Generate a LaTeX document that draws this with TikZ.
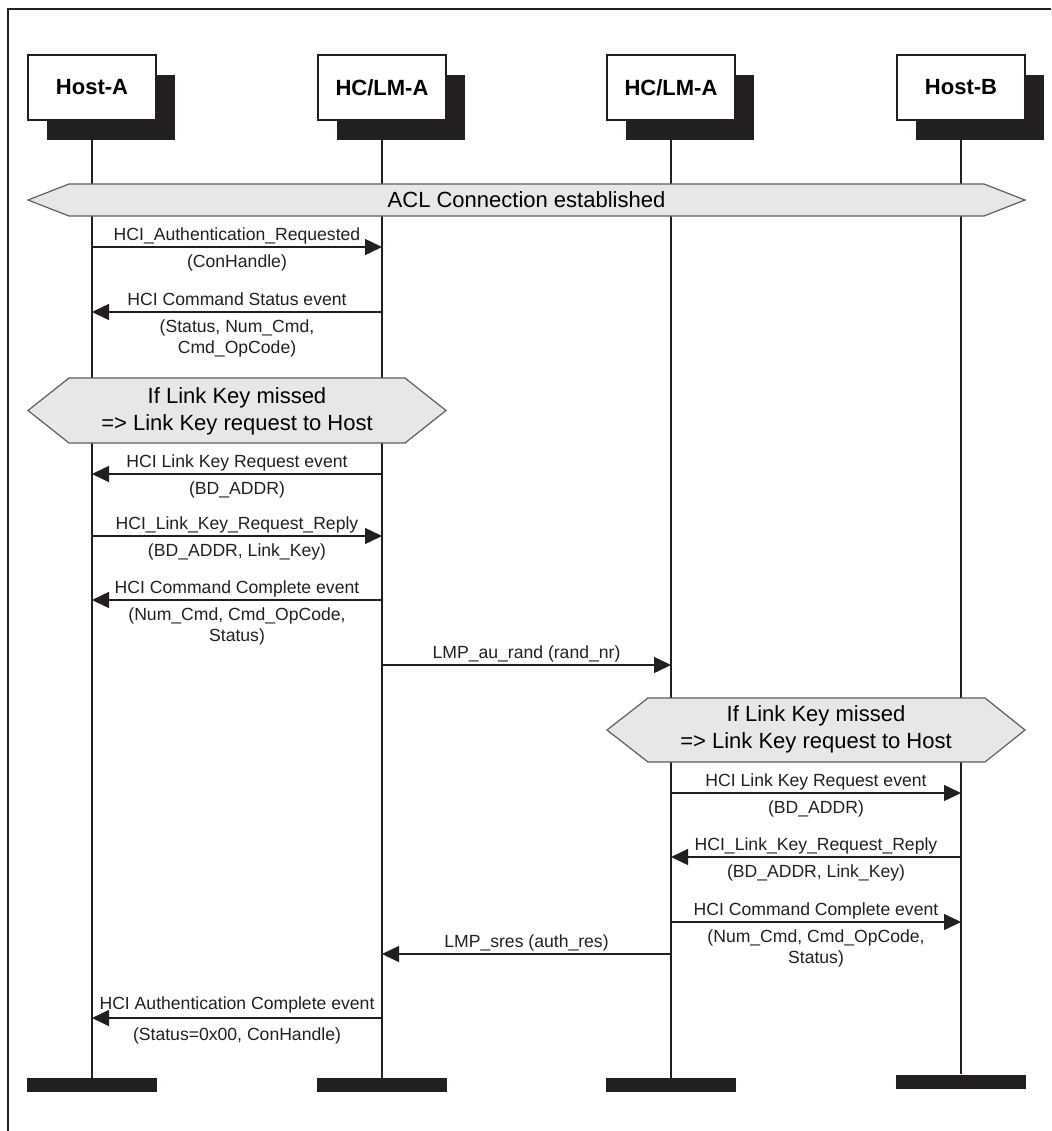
\documentclass[tikz,border=0pt]{standalone}
\usepackage{fontspec}
\setmainfont{Liberation Sans}
\usepackage{tikz}
\usetikzlibrary{arrows.meta, shadows, positioning}
\definecolor{MscInk}{RGB}{35,31,32}
\definecolor{MscFog}{RGB}{231,231,232}
\definecolor{MscEdge}{RGB}{95,95,95}

\begin{document}
\begin{tikzpicture}[x=0.5pt, y=-0.5pt,
          head/.style={rectangle, draw=MscInk, line width=0.6pt, fill=white,
                       minimum width=64pt, minimum height=32.5pt,
                       font=\fontsize{11}{13}\selectfont\bfseries,
                       drop shadow={shadow xshift=9.5pt, shadow yshift=-10pt,
                                    fill=MscInk, opacity=1}},
          foot/.style={rectangle, fill=MscInk, minimum width=65pt,
                       minimum height=7pt, inner sep=0pt},
          life/.style={MscInk, line width=0.65pt},
          band/.style={draw=MscEdge, fill=MscFog, line width=0.6pt},
          big/.style={font=\fontsize{11}{13.5}\selectfont, align=center},
          msg/.style={MscInk, line width=0.75pt, -{Triangle[length=8.5pt, width=8pt]}},
          lbl/.style={font=\fontsize{8.8}{10.5}\selectfont, align=center, inner sep=1.4pt},
          over/.style={lbl, anchor=base, yshift=3.3pt},
          under/.style={lbl, anchor=north, yshift=-1.85pt}
        ]
        \useasboundingbox (0,0) rectangle (1051,1131);
        \draw[MscInk, line width=1pt] (8,1131) -- (8,9) -- (1051,9);

        % headers
        \node[head] (hA) at (92,87.5)  {Host-A};
        \node[head] (cA) at (382,87.5) {HC/LM-A};
        \node[head] (cB) at (671,87.5) {HC/LM-A};
        \node[head] (hB) at (961,87.5) {Host-B};

        % end bars
        \node[foot] (fA) at (92,1085)  {};
        \node[foot] (fB) at (382,1085) {};
        \node[foot] (fC) at (671,1085) {};
        \node[foot] (fD) at (961,1081.5) {};

        % lifelines
        \draw[life] (hA.south) -- (fA.north);
        \draw[life] (cA.south) -- (fB.north);
        \draw[life] (cB.south) -- (fC.north);
        \draw[life] (hB.south) -- (fD.north);

        % ACL link
        \draw[band] (28,200) -- (69,184) -- (984,184) -- (1025,200)
              -- (984,216) -- (69,216) -- cycle;
        \node[big] (acl) at (526.5,200) {ACL Connection established};

        % authentication request
        \draw[msg] (hA |- 0,247) --
              node[over] (m1a) {HCI\_Authentication\_Requested}
              node[under] (m1b) {(ConHandle)} (cA |- 0,247);
        \draw[msg] (cA |- 0,312) --
              node[over] (m2a) {HCI Command Status event}
              node[under] (m2b) {(Status, Num\_Cmd,\\Cmd\_OpCode)} (hA |- 0,312);

        % link key on side A
        \draw[band] (28,410.5) -- (69,378) -- (405,378) -- (446,410.5)
              -- (405,443) -- (69,443) -- cycle;
        \node[big] (kA) at (237,411) {If Link Key missed\\=> Link Key request to Host};

        \draw[msg] (cA |- 0,474) --
              node[over] (m4a) {HCI Link Key Request event}
              node[under] (m4b) {(BD\_ADDR)} (hA |- 0,474);
        \draw[msg] (hA |- 0,536) --
              node[over] (m5a) {HCI\_Link\_Key\_Request\_Reply}
              node[under] (m5b) {(BD\_ADDR, Link\_Key)} (cA |- 0,536);
        \draw[msg] (cA |- 0,600) --
              node[over] (m6a) {HCI Command Complete event}
              node[under] (m6b) {(Num\_Cmd, Cmd\_OpCode,\\Status)} (hA |- 0,600);

        % challenge
        \draw[msg] (cA |- 0,665) --
              node[over] (m7a) {LMP\_au\_rand (rand\_nr)} (cB |- 0,665);

        % link key on side B
        \draw[band] (607,730) -- (648,698) -- (985,698) -- (1025,730)
              -- (985,762) -- (648,762) -- cycle;
        \node[big] (kB) at (816,729.5) {If Link Key missed\\=> Link Key request to Host};

        \draw[msg] (cB |- 0,793) --
              node[over] (m9a) {HCI Link Key Request event}
              node[under] (m9b) {(BD\_ADDR)} (hB |- 0,793);
        \draw[msg] (hB |- 0,857) --
              node[over] (m10a) {HCI\_Link\_Key\_Request\_Reply}
              node[under] (m10b) {(BD\_ADDR, Link\_Key)} (cB |- 0,857);
        \draw[msg] (cB |- 0,922) --
              node[over] (m11a) {HCI Command Complete event}
              node[under] (m11b) {(Num\_Cmd, Cmd\_OpCode,\\Status)} (hB |- 0,922);

        % response and result
        \draw[msg] (cB |- 0,954) --
              node[over] (m12a) {LMP\_sres (auth\_res)} (cA |- 0,954);
        \draw[msg] (cA |- 0,1018) --
              node[over, yshift=1pt] (m13a) {HCI Authentication Complete event}
              node[under, yshift=-1pt] (m13b) {(Status=0x00, ConHandle)} (hA |- 0,1018);
      \end{tikzpicture}
\end{document}
